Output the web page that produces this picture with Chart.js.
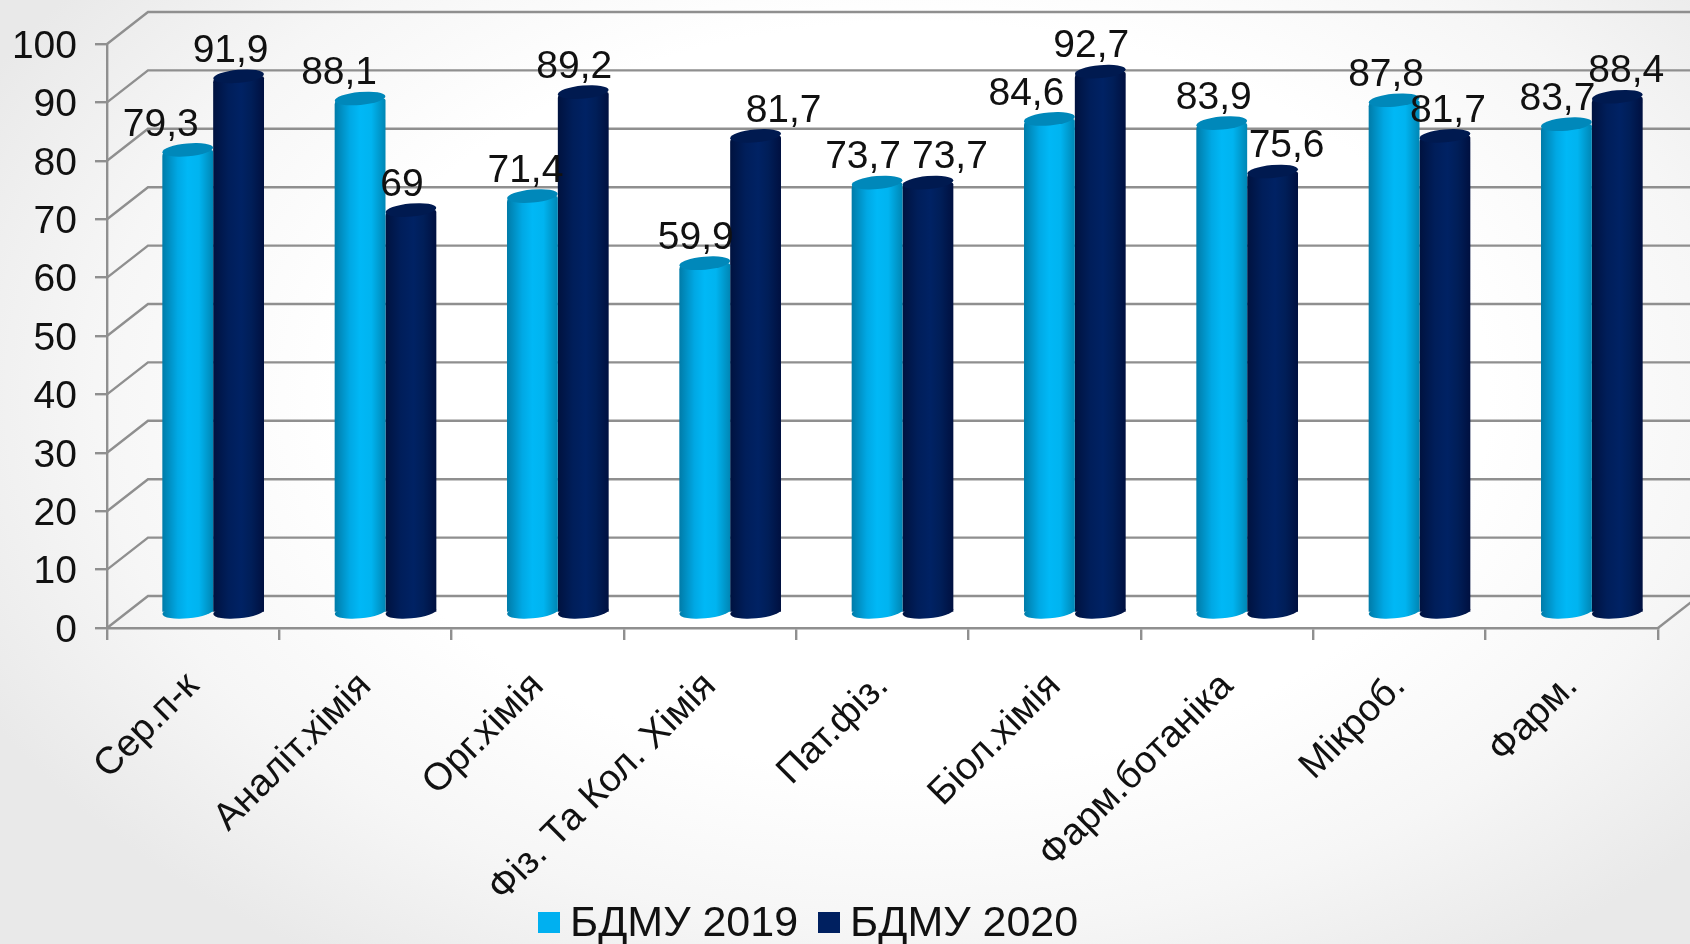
<!DOCTYPE html>
<html>
<head>
<meta charset="utf-8">
<title>БДМУ</title>
<script src="https://cdn.jsdelivr.net/npm/chart.js@4"></script>
<style>
html, body { margin: 0; width: 1690px; height: 944px; overflow: hidden; font-family: "Liberation Sans", sans-serif; }
body { background: radial-gradient(ellipse 62% 72% at 54% 42%, #ffffff 55%, #f6f6f6 78%, #e9e9e9 100%); position: relative; }
#legend { position: absolute; left: 538px; top: 895px; height: 52px; line-height: 52px; font-size: 43px; color: #111; white-space: nowrap; }
#legend i { display: inline-block; width: 22px; height: 21px; margin-right: 10px; vertical-align: 3px; }
#legend span { margin-right: 20px; }
</style>
</head>
<body>
<canvas id="chart" width="1690" height="944"></canvas>
<div id="legend"></div>
<script>
const categories = ['Сер.п-к', 'Аналіт.хімія', 'Орг.хімія', 'Фіз. Та Кол. Хімія', 'Пат.фіз.', 'Біол.хімія', 'Фарм.ботаніка', 'Мікроб.', 'Фарм.'];
const values2019 = [79.3, 88.1, 71.4, 59.9, 73.7, 84.6, 83.9, 87.8, 83.7];
const values2020 = [91.9, 69, 89.2, 81.7, 73.7, 92.7, 75.6, 81.7, 88.4];
const seriesNames = ['БДМУ 2019', 'БДМУ 2020'];
const legendColors = ['#00b0f0', '#002060'];

// label nudges, the original chart had them hand placed
const labelShift2019 = [-27, -21, -7, -9, -14, -23, -8, -8, -9];
const labelShift2020 = [-8, -9, -9, 28, 22, -9, 14, 3, 9];

// fake 3D settings
const depthX = 41, depthY = -32;   // back wall offset
const barX = 20, barY = -15;       // bars stand in the middle of the floor
const capRy = 6.5, capTilt = -0.09;
const gridColor = '#8f8f8f';
const catPercent = 0.59;

const lightStops = [[0, '#007ba8'], [0.3, '#00a8e4'], [0.5, '#00b8f6'], [0.72, '#00b4f0'], [1, '#0086b4']];
const darkStops = [[0, '#00123f'], [0.3, '#001e5a'], [0.55, '#002264'], [0.75, '#001e58'], [1, '#001040']];
const capColors = ['#0088ba', '#001a50'];

function barGradient(c) {
    const chart = c.chart;
    const xs = chart.scales.x;
    if (c.dataIndex === undefined || !xs || !xs.width) return legendColors[c.datasetIndex];
    const w = xs.width / categories.length * catPercent / 2;
    const left = xs.getPixelForValue(c.dataIndex) + (c.datasetIndex - 1) * w;
    if (!isFinite(left)) return legendColors[c.datasetIndex];
    const g = chart.ctx.createLinearGradient(left, 0, left + w, 0);
    (c.datasetIndex === 0 ? lightStops : darkStops).forEach(s => g.addColorStop(s[0], s[1]));
    return g;
}

const fakeDepth = {
    id: 'fakeDepth',
    beforeDatasetsDraw(chart) {
        const ctx = chart.ctx, ys = chart.scales.y, a = chart.chartArea;
        ctx.save();
        ctx.strokeStyle = gridColor;
        ctx.lineWidth = 2.4;
        ys.ticks.forEach(t => {
            const y = ys.getPixelForValue(t.value);
            ctx.beginPath();
            ctx.moveTo(a.left, y);
            ctx.lineTo(a.left + depthX, y + depthY);
            ctx.lineTo(a.right + depthX, y + depthY);
            ctx.stroke();
        });
        ctx.beginPath();
        ctx.moveTo(a.right, a.bottom);
        ctx.lineTo(a.right + depthX, a.bottom + depthY);
        ctx.stroke();
        ctx.restore();
    },
    beforeDatasetDraw(chart) {
        chart.ctx.save();
        chart.ctx.translate(barX, barY);
    },
    afterDatasetDraw(chart, args) {
        const ctx = chart.ctx;
        chart.getDatasetMeta(args.index).data.forEach((el) => {
            const w = el.width / 2;
            // bottom rounding
            ctx.fillStyle = el.options.backgroundColor;
            ctx.beginPath();
            ctx.ellipse(el.x, el.base, w, capRy, capTilt, 0, Math.PI * 2);
            ctx.fill();
            // top cap
            ctx.fillStyle = capColors[args.index];
            ctx.beginPath();
            ctx.ellipse(el.x, el.y, w, capRy, capTilt, 0, Math.PI * 2);
            ctx.fill();
        });
        ctx.restore();
    },
    afterDatasetsDraw(chart) {
        const ctx = chart.ctx;
        ctx.save();
        ctx.font = '39px "Liberation Sans"';
        ctx.fillStyle = '#111';
        ctx.textAlign = 'center';
        ctx.textBaseline = 'middle';
        [labelShift2019, labelShift2020].forEach((shift, i) => {
            chart.getDatasetMeta(i).data.forEach((el, k) => {
                const txt = String(chart.data.datasets[i].data[k]).replace('.', ',');
                ctx.fillText(txt, el.x + barX + shift[k], el.y + barY - 25);
            });
        });
        ctx.restore();
    }
};

// y tick text sits a little under its tick in the original
function lowerTickLabels(scale) {
    if (scale.loweredLabels) return;
    scale.loweredLabels = true;
    const drawLabels = scale.drawLabels;
    scale.drawLabels = function (area) {
        this.ctx.save();
        this.ctx.translate(0, 3);
        drawLabels.call(this, area);
        this.ctx.restore();
    };
}

new Chart(document.getElementById('chart').getContext('2d'), {
    type: 'bar',
    data: {
        labels: categories,
        datasets: [
            { label: seriesNames[0], data: values2019, backgroundColor: barGradient, categoryPercentage: catPercent, barPercentage: 1 },
            { label: seriesNames[1], data: values2020, backgroundColor: barGradient, categoryPercentage: catPercent, barPercentage: 1 }
        ]
    },
    options: {
        responsive: false,
        animation: false,
        clip: false,
        borderSkipped: false,
        borderRadius: { topLeft: 6, topRight: 2, bottomLeft: 0, bottomRight: 0 },
        layout: { padding: { top: 44, right: 32, left: 0, bottom: 0 } },
        plugins: { legend: { display: false }, tooltip: { enabled: false } },
        scales: {
            x: {
                afterFit(scale) { scale.height = 316; },
                grid: { drawOnChartArea: false, color: gridColor, lineWidth: 2.4, tickLength: 12 },
                border: { color: gridColor, width: 2.4 },
                ticks: {
                    autoSkip: false, minRotation: 45, maxRotation: 45, padding: 24,
                    color: '#111', font: { family: '"Liberation Sans"', size: 38 }
                }
            },
            y: {
                min: 0, max: 100,
                afterFit(scale) { scale.width = 107; lowerTickLabels(scale); },
                grid: { drawOnChartArea: false, color: gridColor, lineWidth: 2.4, tickLength: 12 },
                border: { color: gridColor, width: 2.4 },
                ticks: {
                    stepSize: 10, padding: 18,
                    color: '#111', font: { family: '"Liberation Sans"', size: 39 }
                }
            }
        }
    },
    plugins: [fakeDepth]
});

document.getElementById('legend').innerHTML = seriesNames
    .map((n, i) => '<i style="background:' + legendColors[i] + '"></i><span>' + n + '</span>')
    .join('');
</script>
</body>
</html>
